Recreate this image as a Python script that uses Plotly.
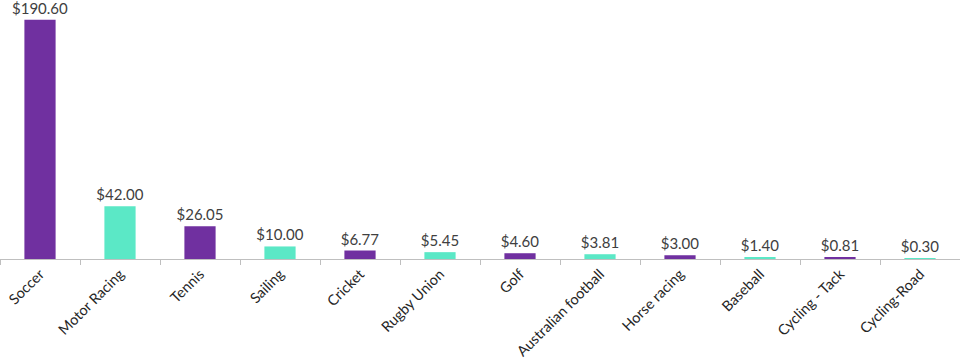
import plotly.graph_objects as go

categories = ["Soccer", "Motor Racing", "Tennis", "Sailing", "Cricket", "Rugby Union",
              "Golf", "Australian football", "Horse racing", "Baseball",
              "Cycling - Tack", "Cycling-Road"]
values = [190.60, 42.00, 26.05, 10.00, 6.77, 5.45, 4.60, 3.81, 3.00, 1.40, 0.81, 0.30]

purple = "#7030A0"
teal = "#5BE8C6"
colors = [purple if i % 2 == 0 else teal for i in range(len(categories))]

fig = go.Figure(go.Bar(
    x=categories, y=values,
    marker=dict(color=colors, line=dict(width=0)),
    width=0.39,
    texttemplate="$%{y:.2f}",
    textposition="outside",
    constraintext="none",
    textfont=dict(family="Lato", size=15, color="#404040"),
    cliponaxis=False,
))

fig.update_layout(
    width=960, height=362,
    margin=dict(l=0, r=0, t=8, b=103, autoexpand=False),
    paper_bgcolor="white", plot_bgcolor="white",
    showlegend=False,
    bargap=0.6,
    xaxis=dict(
        tickangle=-45,
        automargin=False,
        tickfont=dict(family="Lato", size=14.5, color="#262626"),
        showline=True, linecolor="#BFBFBF", linewidth=1,
        ticks="outside", tickson="boundaries", ticklen=5, tickcolor="#BFBFBF",
        showgrid=False,
    ),
    yaxis=dict(range=[0, 200], visible=False, showgrid=False, automargin=False),
)

fig.write_html("out.html", config={"displayModeBar": False},
               post_script="document.body.style.margin='0';")
